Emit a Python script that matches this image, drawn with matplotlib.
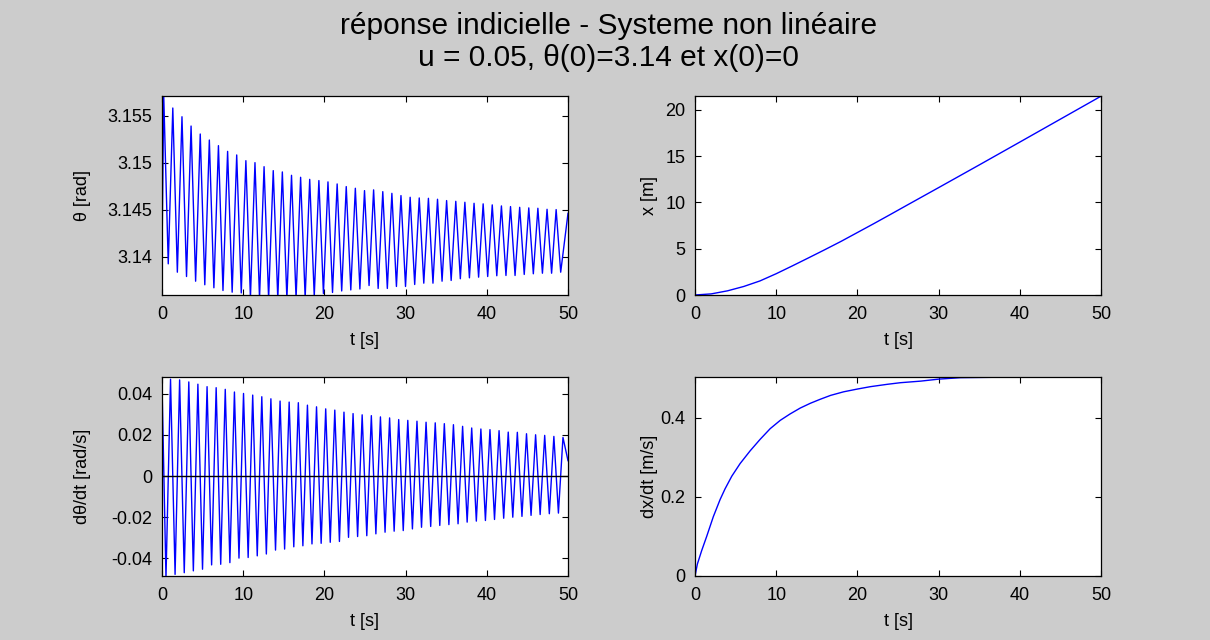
import numpy as np
import matplotlib
matplotlib.use("Agg")
import matplotlib.pyplot as plt

plt.rcParams['font.family'] = ['Liberation Sans', 'DejaVu Sans']

# ---------------- data ----------------
# theta [rad]: start, successive maxima / minima, end
theta_start = (0.0, 3.1400)
theta_end = (50.0, 3.1446)
theta_max_t = [0.21, 1.33, 2.46, 3.58, 4.71, 5.83, 6.95, 8.08, 9.20, 10.33, 11.45,
               12.57, 13.70, 14.82, 15.95, 17.07, 18.19, 19.32, 20.44, 21.57, 22.69,
               23.81, 24.94, 26.06, 27.19, 28.31, 29.43, 30.56, 31.68, 32.81, 33.93,
               35.05, 36.18, 37.30, 38.43, 39.55, 40.67, 41.80, 42.92, 44.05, 45.17,
               46.29, 47.42, 48.54]
theta_max_v = [3.1572, 3.15582, 3.15489, 3.15390, 3.15305, 3.15241, 3.15181, 3.15120,
               3.15082, 3.15021, 3.15000, 3.14957, 3.14915, 3.14901, 3.14865, 3.14844,
               3.14822, 3.14809, 3.14795, 3.14773, 3.14745, 3.14727, 3.14702, 3.14710,
               3.14691, 3.14673, 3.14649, 3.14631, 3.14624, 3.14620, 3.14610, 3.14596,
               3.14588, 3.14578, 3.14567, 3.14561, 3.14550, 3.14539, 3.14532, 3.14524,
               3.14518, 3.14514, 3.14503, 3.14500]
theta_min_t = [0.77, 1.89, 3.02, 4.14, 5.27, 6.39, 7.51, 8.64, 9.76, 10.89, 12.01,
               13.13, 14.26, 15.38, 16.51, 17.63, 18.75, 19.88, 21.00, 22.13, 23.25,
               24.37, 25.50, 26.62, 27.75, 28.87, 29.99, 31.12, 32.24, 33.37, 34.49,
               35.61, 36.74, 37.86, 38.99, 40.11, 41.23, 42.36, 43.48, 44.61, 45.73,
               46.85, 47.98, 49.10]
theta_min_v = [3.13922, 3.13833, 3.13787, 3.13737, 3.13699, 3.13667, 3.13638, 3.13620,
               3.13612, 3.13560, 3.13555, 3.13550, 3.13550, 3.13550, 3.13555, 3.13560,
               3.13575, 3.13606, 3.13617, 3.13633, 3.13644, 3.13654, 3.13691, 3.13660,
               3.13660, 3.13681, 3.13681, 3.13702, 3.13716, 3.13716, 3.13737, 3.13745,
               3.13763, 3.13773, 3.13780, 3.13787, 3.13795, 3.13798, 3.13798, 3.13809,
               3.13816, 3.13822, 3.13822, 3.13833]

# dtheta/dt [rad/s]
dtheta_start = (0.0, 0.0450)
dtheta_end = (50.0, 0.0075)
dtheta_min_t = [0.49, 1.61, 2.74, 3.86, 4.99, 6.11, 7.23, 8.36, 9.48, 10.61, 11.73,
                12.85, 13.98, 15.10, 16.23, 17.35, 18.47, 19.60, 20.72, 21.85, 22.97,
                24.09, 25.22, 26.34, 27.47, 28.59, 29.71, 30.84, 31.96, 33.09, 34.21,
                35.33, 36.46, 37.58, 38.71, 39.83, 40.95, 42.08, 43.20, 44.33, 45.45,
                46.57, 47.70, 48.82]
dtheta_min_v = [-0.0494, -0.0478, -0.0470, -0.0461, -0.0453, -0.0432, -0.0429, -0.0421,
                -0.0399, -0.0396, -0.0388, -0.0379, -0.0360, -0.0355, -0.0344, -0.0339,
                -0.0330, -0.0327, -0.0322, -0.0318, -0.0298, -0.0294, -0.0290, -0.0281,
                -0.0273, -0.0268, -0.0265, -0.0257, -0.0249, -0.0245, -0.0240, -0.0236,
                -0.0232, -0.0224, -0.0219, -0.0216, -0.0211, -0.0205, -0.0200, -0.0196,
                -0.0191, -0.0187, -0.0183, -0.0180]
dtheta_max_t = [1.05, 2.17, 3.30, 4.42, 5.55, 6.67, 7.79, 8.92, 10.04, 11.17, 12.29,
                13.41, 14.54, 15.66, 16.79, 17.91, 19.03, 20.16, 21.28, 22.41, 23.53,
                24.65, 25.78, 26.90, 28.03, 29.15, 30.27, 31.40, 32.52, 33.65, 34.77,
                35.89, 37.02, 38.14, 39.27, 40.39, 41.51, 42.64, 43.76, 44.89, 46.01,
                47.13, 48.26, 49.38]
dtheta_max_v = [0.0471, 0.0468, 0.0458, 0.0447, 0.0435, 0.0430, 0.0422, 0.0409, 0.0402,
                0.0394, 0.0386, 0.0376, 0.0365, 0.0360, 0.0357, 0.0345, 0.0337, 0.0327,
                0.0321, 0.0311, 0.0304, 0.0298, 0.0294, 0.0288, 0.0283, 0.0275, 0.0271,
                0.0267, 0.0262, 0.0259, 0.0255, 0.0250, 0.0242, 0.0234, 0.0229, 0.0226,
                0.0221, 0.0214, 0.0213, 0.0206, 0.0201, 0.0198, 0.0193, 0.0188]

# x [m]
x_t = [0.0, 2.0, 4.0, 6.0, 8.0, 10.0, 12.0, 14.0, 16.0, 18.0, 20.0, 22.0, 24.0,
       26.0, 30.0, 35.0, 40.0, 45.0, 50.0]
x_v = [0.0, 0.12, 0.45, 0.92, 1.52, 2.30, 3.15, 4.02, 4.90, 5.80, 6.75, 7.70, 8.67,
       9.65, 11.60, 14.05, 16.52, 19.00, 21.48]

# dx/dt [m/s]
dx_t = [0.0, 0.29, 0.82, 1.44, 2.26, 3.09, 3.7, 4.53, 5.56, 6.79, 8.02, 9.26, 10.5,
        11.7, 12.96, 14.2, 15.4, 16.7, 18.3, 20.0, 21.6, 23.7, 25.3, 27.8, 30.0,
        32.7, 36.4, 43.4, 50.0]
dx_v = [0.0, 0.030, 0.064, 0.100, 0.150, 0.193, 0.220, 0.252, 0.284, 0.316, 0.345,
        0.372, 0.393, 0.409, 0.424, 0.436, 0.446, 0.456, 0.465, 0.472, 0.478, 0.484,
        0.488, 0.492, 0.497, 0.5007, 0.5016, 0.5024, 0.5024]

title_lines = ["réponse indicielle - Systeme non linéaire",
               "u = 0.05, θ(0)=3.14 et x(0)=0"]
t_ticks = [0, 10, 20, 30, 40, 50]
theta_ticks = [3.14, 3.145, 3.15, 3.155]
theta_ticklabels = ["3.14", "3.145", "3.15", "3.155"]
dtheta_ticks = [-0.04, -0.02, 0, 0.02, 0.04]
dtheta_ticklabels = ["-0.04", "-0.02", "0", "0.02", "0.04"]
x_ticks = [0, 5, 10, 15, 20]
dx_ticks = [0, 0.2, 0.4]
dx_ticklabels = ["0", "0.2", "0.4"]


def interleave(first_t, first_v, second_t, second_v, start, end):
    t = np.column_stack([first_t, second_t]).ravel()
    v = np.column_stack([first_v, second_v]).ravel()
    t = np.concatenate([[start[0]], t, [end[0]]])
    v = np.concatenate([[start[1]], v, [end[1]]])
    return t, v


theta_t, theta_v = interleave(theta_max_t, theta_max_v, theta_min_t, theta_min_v,
                              theta_start, theta_end)
dth_t, dth_v = interleave(dtheta_min_t, dtheta_min_v, dtheta_max_t, dtheta_max_v,
                          dtheta_start, dtheta_end)

# ---------------- figure ----------------
W, H = 1210, 640
fig = plt.figure(figsize=(W / 100, H / 100), dpi=100, facecolor='#cccccc')

def px_axes(x0, y0, x1, y1):
    return fig.add_axes([x0 / W, 1 - y1 / H, (x1 - x0) / W, (y1 - y0) / H])

ax1 = px_axes(162, 96, 568, 295)
ax2 = px_axes(695, 96, 1101, 295)
ax3 = px_axes(162, 377, 568, 576)
ax4 = px_axes(695, 377, 1101, 576)

FS = 13
blue = (0, 0, 1)

for ax in (ax1, ax2, ax3, ax4):
    ax.set_facecolor('white')
    ax.set_xlim(0, 50)
    ax.set_xticks(t_ticks)
    ax.tick_params(direction='in', top=True, right=True, length=4, width=0.8,
                   labelsize=FS, colors='black')
    ax.tick_params(axis='x', pad=8)
    ax.tick_params(axis='y', pad=7)
    for s in ax.spines.values():
        s.set_linewidth(0.9)
        s.set_color('black')
    ax.set_xlabel("t [s]", fontsize=FS)
    ax.xaxis.set_label_coords(0.5, -0.185)

ax1.plot(theta_t, theta_v, color=blue, lw=1.0)
ax1.set_ylim(3.1359, 3.1571)
ax1.set_yticks(theta_ticks)
ax1.set_yticklabels(theta_ticklabels)
ax1.set_ylabel("θ [rad]", fontsize=FS)
ax1.yaxis.set_label_coords(-0.175, 0.5)

ax2.plot(x_t, x_v, color=blue, lw=1.0)
ax2.set_ylim(0, 21.5)
ax2.set_yticks(x_ticks)
ax2.set_ylabel("x [m]", fontsize=FS)
ax2.yaxis.set_label_coords(-0.09, 0.5)

ax3.plot(dth_t, dth_v, color=blue, lw=1.0)
ax3.axhline(0, color='black', lw=1.0)
ax3.set_ylim(-0.0486, 0.0482)
ax3.set_yticks(dtheta_ticks)
ax3.set_yticklabels(dtheta_ticklabels)
ax3.set_ylabel("dθ/dt [rad/s]", fontsize=FS)
ax3.yaxis.set_label_coords(-0.175, 0.5)

ax4.plot(dx_t, dx_v, color=blue, lw=1.0)
ax4.set_ylim(0, 0.5024)
ax4.set_yticks(dx_ticks)
ax4.set_yticklabels(dx_ticklabels)
ax4.set_ylabel("dx/dt [m/s]", fontsize=FS)
ax4.yaxis.set_label_coords(-0.09, 0.5)

fig.text(0.503, 1 - 26 / H, title_lines[0], ha='center', va='center', fontsize=21.5)
fig.text(0.503, 1 - 58 / H, title_lines[1], ha='center', va='center', fontsize=21.5)

fig.savefig("out.png", dpi=100, facecolor=fig.get_facecolor())
